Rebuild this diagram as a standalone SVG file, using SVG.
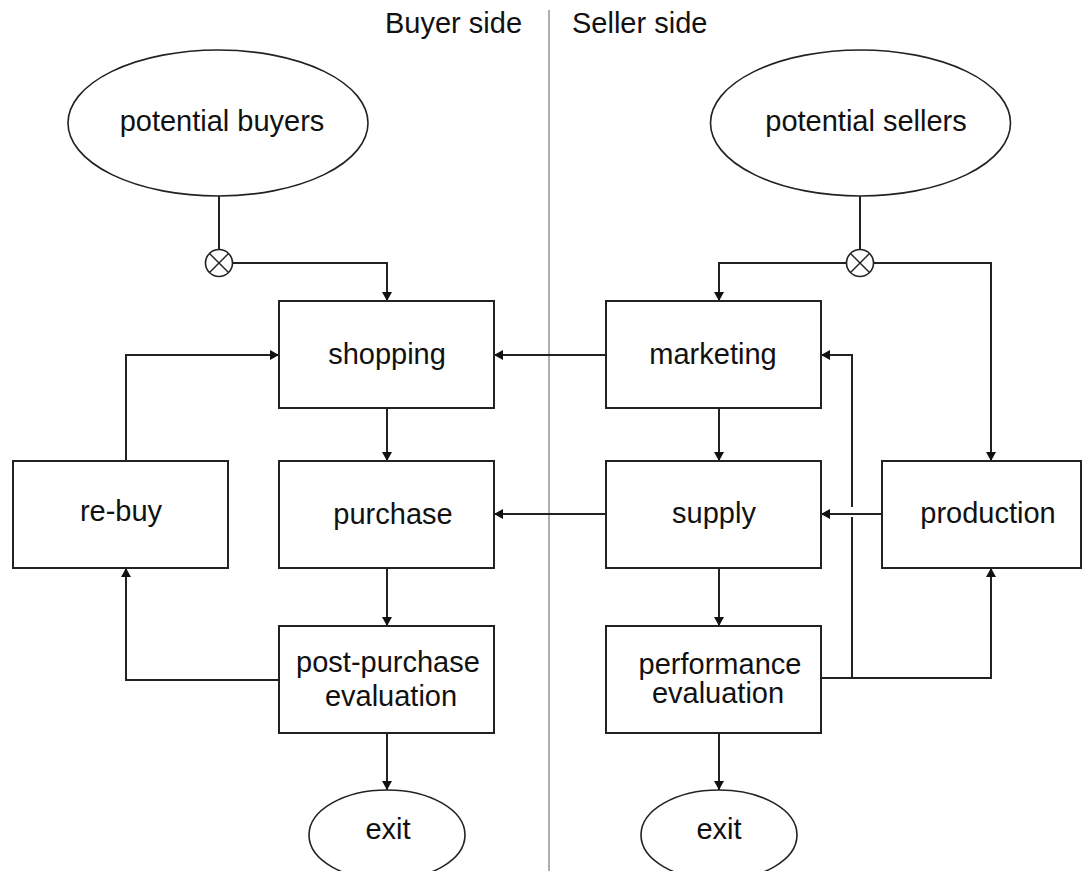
<svg xmlns="http://www.w3.org/2000/svg" width="1087" height="871" viewBox="0 0 1087 871">
  <style>
    .box { fill: #ffffff; stroke: #222; stroke-width: 2; }
    .oval { fill: #ffffff; stroke: #222; stroke-width: 1.6; }
    .lbl { font-family: "Liberation Sans", Arial, sans-serif; font-size: 29px; fill: #111; text-anchor: middle; }
    .head { font-family: "Liberation Sans", Arial, sans-serif; font-size: 29px; fill: #111; }
    .wire { fill: none; stroke: #222; stroke-width: 2; }
    .arr { marker-end: url(#tip); }
    .join { fill: #ffffff; stroke: #222; stroke-width: 1.6; }
    .cross { stroke: #222; stroke-width: 1.4; }
  </style>
  <defs>
    <marker id="tip" markerUnits="userSpaceOnUse" markerWidth="10" markerHeight="11" refX="9" refY="5.5" orient="auto">
      <path d="M0,0.5 L9,5.5 L0,10.5 z" fill="#111"/>
    </marker>
  </defs>

  <rect width="1087" height="871" fill="#ffffff"/>

  <!-- divider between the two sides -->
  <g id="divider">
    <line x1="549" y1="10" x2="549" y2="871" stroke="#9a9a9a" stroke-width="1.6"/>
    <text class="head" x="385" y="33">Buyer side</text>
    <text class="head" x="572" y="33">Seller side</text>
  </g>

  <!-- connectors -->
  <g id="connectors">
    <!-- buyer side -->
    <path class="wire" d="M219,196 V249.5"/>
    <path class="wire arr" d="M232.5,263 H387 V301"/>
    <path class="wire arr" d="M387,408 V461"/>
    <path class="wire arr" d="M387,568 V626"/>
    <path class="wire arr" d="M387,733 V790"/>
    <path class="wire arr" d="M279,680 H126 V568"/>
    <path class="wire arr" d="M126,461 V355 H279"/>
    <!-- seller to buyer -->
    <path class="wire arr" d="M606,355 H494"/>
    <path class="wire arr" d="M606,514 H494"/>
    <!-- seller side -->
    <path class="wire" d="M860,196 V249.5"/>
    <path class="wire arr" d="M846.5,263 H719 V301"/>
    <path class="wire arr" d="M873.5,263 H991 V461"/>
    <path class="wire arr" d="M719,408 V461"/>
    <path class="wire arr" d="M719,568 V626"/>
    <path class="wire arr" d="M719,733 V790"/>
    <path class="wire arr" d="M821,678 H991 V568"/>
    <path class="wire" d="M852,678 V517"/>
    <path class="wire arr" d="M852,507 V355 H821"/>
    <path class="wire arr" d="M882,514 H821"/>
  </g>

  <!-- junction markers -->
  <g id="join-buyers">
    <circle class="join" cx="219" cy="263" r="13.5"/>
    <line class="cross" x1="209.5" y1="253.5" x2="228.5" y2="272.5"/>
    <line class="cross" x1="228.5" y1="253.5" x2="209.5" y2="272.5"/>
  </g>
  <g id="join-sellers">
    <circle class="join" cx="860" cy="263" r="13.5"/>
    <line class="cross" x1="850.5" y1="253.5" x2="869.5" y2="272.5"/>
    <line class="cross" x1="869.5" y1="253.5" x2="850.5" y2="272.5"/>
  </g>

  <!-- buyer side nodes -->
  <g id="potential-buyers">
    <ellipse class="oval" cx="218" cy="123" rx="150" ry="73"/>
    <text class="lbl" x="222" y="131">potential buyers</text>
  </g>
  <g id="shopping">
    <rect class="box" x="279" y="301" width="215" height="107"/>
    <text class="lbl" x="387" y="364">shopping</text>
  </g>
  <g id="purchase">
    <rect class="box" x="279" y="461" width="215" height="107"/>
    <text class="lbl" x="393" y="524">purchase</text>
  </g>
  <g id="post-purchase-evaluation">
    <rect class="box" x="279" y="626" width="215" height="107"/>
    <text class="lbl" x="388" y="672">post-purchase</text>
    <text class="lbl" x="391" y="706">evaluation</text>
  </g>
  <g id="re-buy">
    <rect class="box" x="13" y="461" width="215" height="107"/>
    <text class="lbl" x="121" y="521">re-buy</text>
  </g>
  <g id="buyer-exit">
    <ellipse class="oval" cx="387" cy="835" rx="78" ry="45"/>
    <text class="lbl" x="388" y="839">exit</text>
  </g>

  <!-- seller side nodes -->
  <g id="potential-sellers">
    <ellipse class="oval" cx="860.5" cy="123" rx="150" ry="73"/>
    <text class="lbl" x="866" y="131">potential sellers</text>
  </g>
  <g id="marketing">
    <rect class="box" x="606" y="301" width="215" height="107"/>
    <text class="lbl" x="713" y="364">marketing</text>
  </g>
  <g id="supply">
    <rect class="box" x="606" y="461" width="215" height="107"/>
    <text class="lbl" x="714" y="523">supply</text>
  </g>
  <g id="production">
    <rect class="box" x="882" y="461" width="199" height="107"/>
    <text class="lbl" x="988" y="523">production</text>
  </g>
  <g id="performance-evaluation">
    <rect class="box" x="606" y="626" width="215" height="107"/>
    <text class="lbl" x="720" y="674">performance</text>
    <text class="lbl" x="718" y="703">evaluation</text>
  </g>
  <g id="seller-exit">
    <ellipse class="oval" cx="719" cy="835" rx="78" ry="45"/>
    <text class="lbl" x="719" y="839">exit</text>
  </g>
</svg>
